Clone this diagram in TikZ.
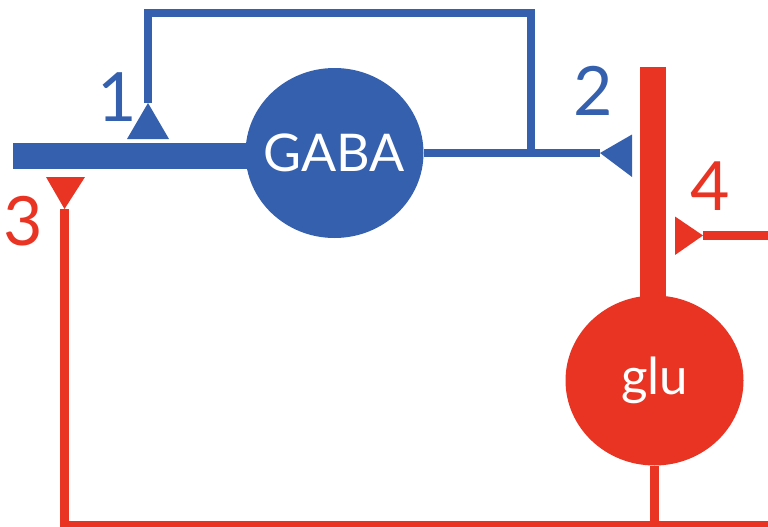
\documentclass[tikz,border=0pt]{standalone}
\usepackage{fontspec}
\setmainfont{Lato}
\usetikzlibrary{shapes.geometric}
\definecolor{cblue}{RGB}{53,96,173}
\definecolor{cred}{RGB}{233,52,36}
\tikzset{
  cell/.style={ellipse, inner sep=0pt, minimum width=178pt, minimum height=170pt},
  bluecell/.style={cell, fill=cblue},
  redcell/.style={cell, fill=cred},
  celltext/.style={inner sep=0pt, text=white},
  thinblue/.style={draw=cblue, line width=8.5pt},
  thinred/.style={draw=cred, line width=8.5pt},
  thickblue/.style={draw=cblue, line width=26pt},
  thickred/.style={draw=cred, line width=26pt},
  tipblue/.style={fill=cblue},
  tipred/.style={fill=cred},
  numlabel/.style={anchor=base, inner sep=0pt, font=\fontsize{68}{68}\selectfont},
}
\begin{document}
\begin{tikzpicture}[x=1pt,y=-1pt]
\useasboundingbox (0,0) rectangle (768,527);

% thick processes
\coordinate (bl) at (13,156);
\coordinate (rtop) at (653,67);
\path[thickblue] (bl) -- (260,156);
\path[thickred] (rtop) -- (653,310);

% cells
\node[bluecell] (gaba) at (334.5,153) {};
\node[celltext, font=\fontsize{52}{52}\selectfont] (gabat) at (gaba.center) {GABA};
\node[redcell] (glu) at (654.5,380.5) {};
\node[celltext, font=\fontsize{51}{51}\selectfont] (glut) at (glu.center) {glu};

% connector 2: GABA -> glu process
\coordinate (t2) at (600,153);
\draw[thinblue] (gaba.east) -- (t2);
\fill[tipblue] (t2) -- (632,134.5) -- (632,177) -- cycle;

% connector 1: feedback loop onto GABA process
\coordinate (br) at (531,153);
\coordinate (t1) at (148,103);
\draw[thinblue] (br) -- (531,13) -- (148,13) -- (t1);
\fill[tipblue] (t1) -- (127,139) -- (169,139) -- cycle;

% connector 3: glu -> GABA process
\coordinate (gb) at (654.5,525);
\coordinate (t3) at (64.5,209);
\coordinate (rr) at (768,525);
\draw[thinred] (glu.south) -- (gb);
\draw[thinred] (rr) -- (64.5,525) -- (t3);
\fill[tipred] (t3) -- (46,177) -- (85,177) -- cycle;

% connector 4: input onto glu process
\coordinate (in4) at (768,235.5);
\coordinate (t4) at (703,235.5);
\draw[thinred] (in4) -- (t4);
\fill[tipred] (t4) -- (675,216.5) -- (675,255) -- cycle;

% labels
\node[numlabel, text=cblue] (n1) at (117,121) {1};
\node[numlabel, text=cblue] (n2) at (593,115) {2};
\node[numlabel, text=cred] (n3) at (23.5,245) {3};
\node[numlabel, text=cred] (n4) at (710.5,210) {4};
\end{tikzpicture}
\end{document}
